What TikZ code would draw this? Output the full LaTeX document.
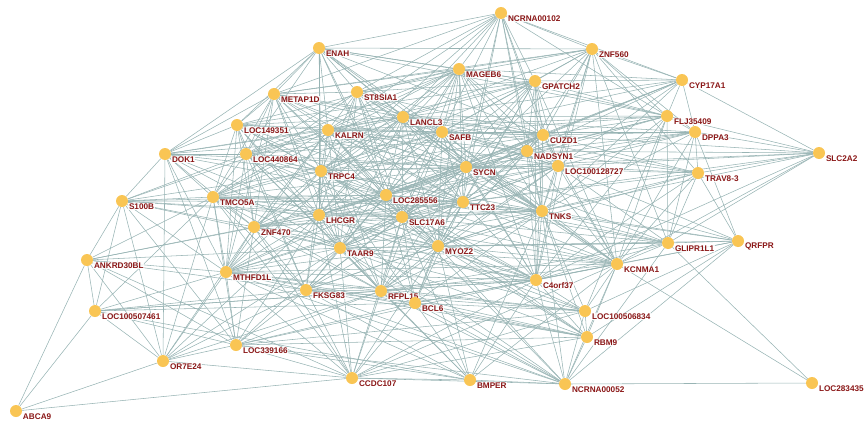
\documentclass[tikz,border=0pt]{standalone}
\usepackage{fontspec}
\setsansfont{Liberation Sans}
\usepackage{tikz}
\usetikzlibrary{backgrounds}
\definecolor{geneyellow}{RGB}{249,197,84}
\definecolor{genered}{RGB}{138,22,22}
\definecolor{linkteal}{RGB}{152,180,180}
\tikzset{
%Define style for the gene dots and their names
gene/.style={circle, fill=geneyellow, minimum size=12pt, inner sep=0pt,
  label={[genelabel]right:#1}},
genelabel/.style={yshift=-5.5pt, inner sep=0.6pt, fill=white, fill opacity=0.85,
  text opacity=1, text=genered, font=\sffamily\bfseries\fontsize{8.2}{8}\selectfont},
%Define style for the links
link/.style={draw=linkteal, line width=0.55pt},
}

\begin{document}
\begin{tikzpicture}[x=1pt, y=-1pt]
    \useasboundingbox (0,0) rectangle (864,423);
    %Genes, upper part
    \node[gene=NCRNA00102] (ncrna102) at (501,13) {};
    \node[gene=ZNF560] (znf560) at (592,49) {};
    \node[gene=ENAH] (enah) at (319,48) {};
    \node[gene=MAGEB6] (mageb6) at (459,69) {};
    \node[gene=GPATCH2] (gpatch2) at (535,81) {};
    \node[gene=CYP17A1] (cyp17a1) at (682,80) {};
    \node[gene=METAP1D] (metap1d) at (274,94) {};
    \node[gene=ST8SIA1] (st8sia1) at (357,92) {};
    \node[gene=FLJ35409] (flj35409) at (667,116) {};
    \node[gene=LANCL3] (lancl3) at (403,117) {};
    \node[gene=LOC149351] (loc149351) at (237,125) {};
    \node[gene=KALRN] (kalrn) at (328,130) {};
    \node[gene=SAFB] (safb) at (442,132) {};
    \node[gene=CUZD1] (cuzd1) at (543,135) {};
    \node[gene=DPPA3] (dppa3) at (695,132) {};
    \node[gene=NADSYN1] (nadsyn1) at (527,151) {};
    \node[gene=DOK1] (dok1) at (165,154) {};
    \node[gene=LOC440864] (loc440864) at (246,154) {};
    \node[gene=SLC2A2] (slc2a2) at (819,153) {};
    \node[gene=SYCN] (sycn) at (466,167) {};
    \node[gene=LOC100128727] (loc128727) at (558,166) {};
    \node[gene=TRPC4] (trpc4) at (321,171) {};
    \node[gene=TRAV8-3] (trav83) at (698,173) {};
    %Genes, middle part
    \node[gene=LOC285556] (loc285556) at (386,195) {};
    \node[gene=TMCO5A] (tmco5a) at (213,197) {};
    \node[gene=S100B] (s100b) at (122,201) {};
    \node[gene=TTC23] (ttc23) at (463,202) {};
    \node[gene=TNKS] (tnks) at (542,211) {};
    \node[gene=LHCGR] (lhcgr) at (319,215) {};
    \node[gene=SLC17A6] (slc17a6) at (402,217) {};
    \node[gene=ZNF470] (znf470) at (254,227) {};
    \node[gene=MYOZ2] (myoz2) at (438,246) {};
    \node[gene=TAAR9] (taar9) at (340,248) {};
    \node[gene=GLIPR1L1] (glipr1l1) at (668,243) {};
    \node[gene=QRFPR] (qrfpr) at (738,241) {};
    \node[gene=ANKRD30BL] (ankrd30bl) at (87,260) {};
    \node[gene=KCNMA1] (kcnma1) at (617,264) {};
    \node[gene=MTHFD1L] (mthfd1l) at (226,272) {};
    \node[gene=C4orf37] (c4orf37) at (536,280) {};
    %Genes, lower part
    \node[gene=FKSG83] (fksg83) at (306,290) {};
    \node[gene=RFPL15] (rfpl15) at (381,291) {};
    \node[gene=BCL6] (bcl6) at (415,303) {};
    \node[gene=LOC100506834] (loc506834) at (585,311) {};
    \node[gene=LOC100507461] (loc507461) at (95,311) {};
    \node[gene=RBM9] (rbm9) at (587,337) {};
    \node[gene=LOC339166] (loc339166) at (236,345) {};
    \node[gene=OR7E24] (or7e24) at (163,361) {};
    \node[gene=CCDC107] (ccdc107) at (352,378) {};
    \node[gene=BMPER] (bmper) at (470,380) {};
    \node[gene=NCRNA00052] (ncrna52) at (565,384) {};
    \node[gene=LOC283435] (loc283435) at (812,383) {};
    \node[gene=ABCA9] (abca9) at (16,411) {};

    \begin{scope}[on background layer]
    %Links of the outer genes
    \foreach \src/\dsts in {
      abca9/{ankrd30bl,loc507461,or7e24,ccdc107},
      ankrd30bl/{s100b,loc507461,or7e24,mthfd1l,loc339166,tmco5a,znf470,taar9,lhcgr,fksg83,ccdc107},
      loc507461/{s100b,or7e24,loc339166,mthfd1l,rfpl15,bcl6,fksg83,c4orf37,tmco5a},
      or7e24/{loc339166,ccdc107,mthfd1l,dok1,s100b,tmco5a,znf470,lhcgr,fksg83,rfpl15,taar9},
      s100b/{dok1,tmco5a,loc440864,trpc4,lhcgr,mthfd1l,loc339166,znf470,loc285556,slc17a6,ttc23,taar9,kalrn},
      dok1/{enah,metap1d,loc149351,loc440864,tmco5a,mthfd1l,trpc4,kalrn,loc285556,lhcgr,sycn,safb,lancl3,znf470,taar9,loc339166},
      enah/{ncrna102,metap1d,loc149351,st8sia1,kalrn,mageb6,gpatch2,cuzd1,znf560,lancl3,safb,trpc4,loc285556,sycn,loc440864,lhcgr,slc17a6,tnks,flj35409},
      ncrna102/{znf560,mageb6,gpatch2,cyp17a1,st8sia1,metap1d,lancl3,safb,sycn,cuzd1,nadsyn1,loc128727,tnks,kalrn,trpc4,ttc23,flj35409},
      znf560/{mageb6,gpatch2,cyp17a1,flj35409,dppa3,cuzd1,nadsyn1,loc128727,sycn,safb,lancl3,tnks,st8sia1,metap1d,kcnma1,trav83,glipr1l1,c4orf37},
      cyp17a1/{slc2a2,flj35409,dppa3,gpatch2,mageb6,cuzd1,nadsyn1,sycn,lancl3,safb,loc128727,loc285556,tnks},
      slc2a2/{flj35409,dppa3,trav83,loc128727,nadsyn1,cuzd1,sycn,glipr1l1,kcnma1,tnks,ttc23,c4orf37},
      flj35409/{dppa3,gpatch2,mageb6,cuzd1,nadsyn1,sycn,safb,lancl3,kalrn,loc285556,tnks,kcnma1,glipr1l1,c4orf37,loc506834},
      dppa3/{trav83,cuzd1,nadsyn1,sycn,safb,lancl3,loc128727,tnks,kcnma1,glipr1l1,qrfpr,loc285556},
      trav83/{qrfpr,loc128727,nadsyn1,sycn,tnks,kcnma1,c4orf37,myoz2,lancl3,ttc23,glipr1l1,cuzd1},
      qrfpr/{glipr1l1,kcnma1,c4orf37,tnks,rbm9,loc506834,ncrna52,loc128727,sycn,ttc23,myoz2},
      glipr1l1/{tnks,c4orf37,kcnma1,myoz2,slc17a6,ttc23,sycn,loc285556,loc128727,taar9,rfpl15,loc283435},
      loc283435/{ncrna52,kcnma1},
      ncrna52/{bmper,rbm9,loc506834,kcnma1,c4orf37,glipr1l1,tnks,myoz2,taar9,rfpl15,bcl6,fksg83,loc339166,mthfd1l,slc17a6,lhcgr},
      bmper/{ccdc107,rfpl15,bcl6,c4orf37,tnks,kcnma1,myoz2,mthfd1l,loc339166,fksg83,taar9,slc17a6,loc507461},
      ccdc107/{loc339166,mthfd1l,fksg83,rfpl15,bcl6,taar9,lhcgr,myoz2,c4orf37,loc506834,rbm9,kcnma1,ncrna52,znf470,tmco5a,slc17a6},
      loc339166/{mthfd1l,fksg83,rfpl15,bcl6,c4orf37,rbm9,loc506834,znf470,tmco5a,lhcgr,taar9},
      rbm9/{loc506834,c4orf37,kcnma1,rfpl15,bcl6,fksg83,mthfd1l,myoz2,taar9,tnks,slc17a6,loc285556},
      loc506834/{c4orf37,kcnma1,rfpl15,bcl6,fksg83,mthfd1l,myoz2,taar9,lhcgr,tnks}}
      \foreach \dst in \dsts
        \draw[link] (\src) -- (\dst);
    %Links inside the core
    \foreach \src/\dsts in {
      metap1d/{st8sia1,mageb6,lancl3,loc149351,kalrn,safb,loc440864,sycn,trpc4,loc285556,tmco5a,ttc23,lhcgr,slc17a6,znf470,taar9,mthfd1l,tnks,cuzd1},
      st8sia1/{mageb6,gpatch2,lancl3,kalrn,safb,cuzd1,loc440864,sycn,trpc4,loc285556,tmco5a,ttc23,lhcgr,slc17a6,myoz2,taar9,tnks},
      mageb6/{gpatch2,lancl3,loc149351,kalrn,safb,cuzd1,nadsyn1,sycn,loc128727,trpc4,loc285556,ttc23,tnks,lhcgr,slc17a6,myoz2,taar9,c4orf37,tmco5a,loc440864},
      gpatch2/{lancl3,kalrn,safb,cuzd1,nadsyn1,sycn,loc128727,loc285556,ttc23,tnks,slc17a6,myoz2,kcnma1,c4orf37,trpc4,loc149351},
      lancl3/{loc149351,kalrn,safb,cuzd1,nadsyn1,loc440864,sycn,loc128727,trpc4,loc285556,tmco5a,ttc23,tnks,lhcgr,slc17a6,znf470,myoz2,taar9,mthfd1l,kcnma1},
      loc149351/{kalrn,safb,loc440864,sycn,trpc4,loc285556,tmco5a,ttc23,lhcgr,slc17a6,znf470,taar9,mthfd1l,fksg83},
      kalrn/{safb,cuzd1,nadsyn1,loc440864,sycn,loc128727,trpc4,loc285556,tmco5a,ttc23,tnks,lhcgr,slc17a6,znf470,myoz2,taar9,mthfd1l,rfpl15},
      safb/{cuzd1,nadsyn1,loc440864,sycn,loc128727,trpc4,loc285556,tmco5a,ttc23,tnks,lhcgr,slc17a6,znf470,myoz2,taar9,kcnma1,c4orf37,rfpl15},
      cuzd1/{nadsyn1,sycn,loc128727,trpc4,loc285556,ttc23,tnks,lhcgr,slc17a6,myoz2,kcnma1,c4orf37,taar9,loc440864},
      nadsyn1/{sycn,loc128727,loc285556,ttc23,tnks,slc17a6,myoz2,kcnma1,c4orf37,trpc4,lhcgr},
      loc440864/{sycn,trpc4,loc285556,tmco5a,ttc23,lhcgr,slc17a6,znf470,taar9,mthfd1l,fksg83,rfpl15,myoz2},
      sycn/{loc128727,trpc4,loc285556,tmco5a,ttc23,tnks,lhcgr,slc17a6,znf470,myoz2,taar9,kcnma1,mthfd1l,c4orf37,fksg83,rfpl15,bcl6},
      loc128727/{trpc4,loc285556,ttc23,tnks,slc17a6,myoz2,kcnma1,c4orf37,taar9,rfpl15,lhcgr},
      trpc4/{loc285556,tmco5a,ttc23,tnks,lhcgr,slc17a6,znf470,myoz2,taar9,mthfd1l,c4orf37,fksg83,rfpl15,bcl6},
      loc285556/{tmco5a,ttc23,tnks,lhcgr,slc17a6,znf470,myoz2,taar9,kcnma1,mthfd1l,c4orf37,fksg83,rfpl15,bcl6},
      tmco5a/{ttc23,lhcgr,slc17a6,znf470,taar9,mthfd1l,fksg83,rfpl15,myoz2,tnks},
      ttc23/{tnks,lhcgr,slc17a6,znf470,myoz2,taar9,kcnma1,mthfd1l,c4orf37,fksg83,rfpl15,bcl6},
      tnks/{lhcgr,slc17a6,myoz2,taar9,kcnma1,c4orf37,rfpl15,bcl6,fksg83,znf470},
      lhcgr/{slc17a6,znf470,myoz2,taar9,kcnma1,mthfd1l,c4orf37,fksg83,rfpl15},
      slc17a6/{znf470,myoz2,taar9,kcnma1,mthfd1l,c4orf37,fksg83,rfpl15,bcl6},
      znf470/{taar9,mthfd1l,fksg83,rfpl15,myoz2,c4orf37},
      myoz2/{taar9,kcnma1,c4orf37,fksg83,rfpl15,bcl6,mthfd1l},
      taar9/{kcnma1,mthfd1l,c4orf37,fksg83,rfpl15,bcl6},
      kcnma1/{c4orf37,rfpl15,bcl6,mthfd1l},
      mthfd1l/{fksg83,rfpl15,bcl6,c4orf37},
      c4orf37/{fksg83,rfpl15,bcl6},
      fksg83/{rfpl15,bcl6},
      rfpl15/{bcl6}}
      \foreach \dst in \dsts
        \draw[link] (\src) -- (\dst);
    \end{scope}
\end{tikzpicture}
\end{document}
